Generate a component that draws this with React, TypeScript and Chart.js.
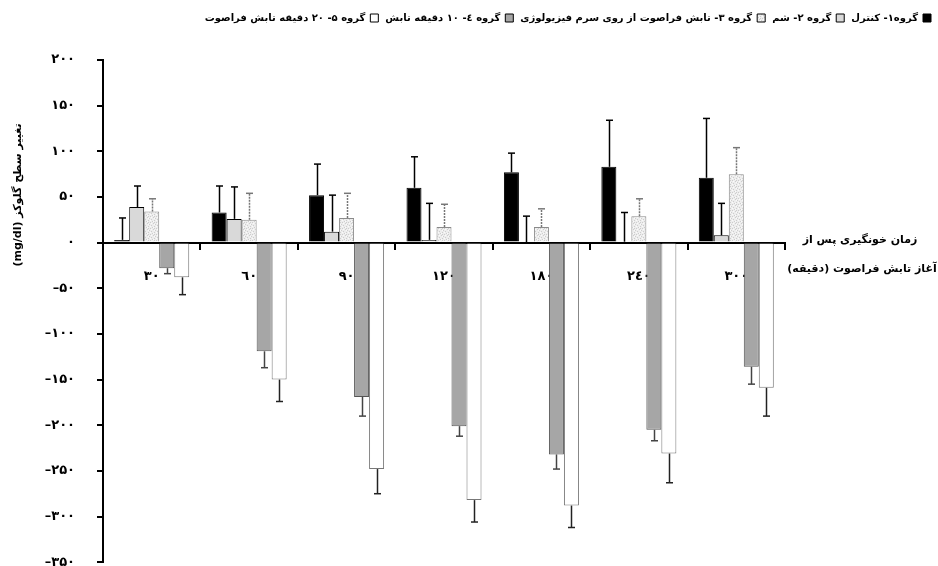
import React, { useEffect, useRef } from "react";
import { Chart, registerables } from "chart.js";

Chart.register(...registerables);

const FONT = "'DejaVu Sans', 'Noto Sans', sans-serif";

// Categories: time after start of ultrasound exposure (minutes)
const categories = ["۳۰", "٦۰", "۹۰", "۱۲۰", "۱۸۰", "۲٤۰", "۳۰۰"];

const seriesNames = [
  "گروه۱- کنترل",
  "گروه ۲- شم",
  "گروه ۳- تابش فراصوت از روی سرم فیزیولوژی",
  "گروه ٤- ۱۰ دقیقه تابش",
  "گروه ۵- ۲۰ دقیقه تابش فراصوت",
];

const control = [3, 33, 52, 60, 77, 83, 71];
const controlErr = [24, 29, 34, 34, 21, 51, 65];
const sham = [39, 26, 12, 3, 0, 1, 8];
const shamErr = [23, 35, 40, 40, 29, 32, 35];
const saline = [34, 25, 27, 17, 17, 29, 75];
const salineErr = [14, 29, 27, 25, 20, 19, 29];
const us10 = [-28, -119, -169, -201, -232, -205, -136];
const us10Err = [6, 18, 21, 11, 16, 12, 19];
const us20 = [-38, -150, -248, -282, -288, -231, -159];
const us20Err = [19, 24, 27, 24, 24, 32, 31];

const yMin = -350;
const yMax = 200;
const yStep = 50;

const yTitle = "تغییر سطح گلوکز (mg/dl)";
const xTitleLines = ["زمان خونگیری پس از", "آغاز تابش فراصوت (دقیقه)"];

const persianDigits = "۰۱۲۳۴۵۶۷۸۹";
// left-to-right isolate so the minus sign stays on the left
const toPersian = (v: number) =>
  "\u2066" + (v < 0 ? "–" : "") + String(Math.abs(v)).replace(/\d/g, (d) => persianDigits[Number(d)]) + "\u2069";

function makeSpeckle(): CanvasPattern | string {
  const c = document.createElement("canvas");
  c.width = 6;
  c.height = 6;
  const g = c.getContext("2d");
  if (!g) return "#ebebeb";
  g.fillStyle = "#ededed";
  g.fillRect(0, 0, 6, 6);
  g.fillStyle = "#cdcdcd";
  [[0, 0], [3, 1], [1, 3], [4, 4], [2, 5], [5, 2], [4, 0]].forEach(([x, y]) => g.fillRect(x, y, 1, 1));
  g.fillStyle = "#fafafa";
  [[1, 1], [4, 2], [0, 4], [3, 5]].forEach(([x, y]) => g.fillRect(x, y, 1, 1));
  return g.createPattern(c, "repeat") || "#ebebeb";
}

const errorSets = [controlErr, shamErr, salineErr, us10Err, us20Err];
const errorStyles = [
  { color: "#000", dash: [] as number[] },
  { color: "#000", dash: [] as number[] },
  { color: "#777", dash: [2, 1] },
  { color: "#444", dash: [] as number[] },
  { color: "#222", dash: [] as number[] },
];

const errorBarPlugin = {
  id: "errorBars",
  afterDatasetsDraw(chart: any) {
    const ctx = chart.ctx;
    const yScale = chart.scales.y;
    ctx.save();
    chart.data.datasets.forEach((ds: any, i: number) => {
      const meta = chart.getDatasetMeta(i);
      const errs = errorSets[i];
      const st = errorStyles[i];
      meta.data.forEach((bar: any, j: number) => {
        const v = ds.data[j] as number;
        const e = errs[j];
        const end = v >= 0 ? v + e : v - e;
        const x = Math.round(bar.x) + 0.5;
        const y0 = yScale.getPixelForValue(v);
        const y1 = yScale.getPixelForValue(end);
        ctx.strokeStyle = st.color;
        ctx.lineWidth = 1.5;
        ctx.setLineDash(st.dash);
        ctx.beginPath();
        ctx.moveTo(x, y0);
        ctx.lineTo(x, y1);
        ctx.stroke();
        ctx.setLineDash([]);
        ctx.beginPath();
        ctx.moveTo(x - 3.5, y1);
        ctx.lineTo(x + 3.5, y1);
        ctx.stroke();
      });
    });
    ctx.restore();
  },
};

const titlesPlugin = {
  id: "titles",
  beforeInit(chart: any) {
    const lg = chart.legend;
    if (lg) {
      const orig = lg.fit.bind(lg);
      lg.fit = function () {
        orig();
        this.height += 27;
      };
    }
  },
  afterDraw(chart: any) {
    const ctx = chart.ctx;
    ctx.save();
    ctx.fillStyle = "#000";
    ctx.direction = "rtl";
    ctx.textAlign = "center";
    ctx.textBaseline = "middle";
    ctx.font = `bold 11px ${FONT}`;
    ctx.fillText(xTitleLines[0], 860, 240);
    ctx.fillText(xTitleLines[1], 862, 269);
    ctx.translate(18, 195);
    ctx.rotate(-Math.PI / 2);
    ctx.font = `bold 11px ${FONT}`;
    ctx.fillText(yTitle, 0, 0);
    ctx.restore();
  },
};

export default function App() {
  const ref = useRef<HTMLCanvasElement | null>(null);

  useEffect(() => {
    if (!ref.current) return;
    const speckle = makeSpeckle();
    const chart = new Chart(ref.current, {
      type: "bar",
      data: {
        labels: categories,
        datasets: [
          { label: seriesNames[0], data: control, backgroundColor: "#000", borderColor: "#000", borderWidth: 1 },
          { label: seriesNames[1], data: sham, backgroundColor: "#d9d9d9", borderColor: "#000", borderWidth: 1 },
          { label: seriesNames[2], data: saline, backgroundColor: speckle as any, borderColor: "#8a8a8a", borderWidth: 1 },
          { label: seriesNames[3], data: us10, backgroundColor: "#a6a6a6", borderColor: "#555", borderWidth: 1 },
          { label: seriesNames[4], data: us20, backgroundColor: "#fff", borderColor: "#777", borderWidth: 1 },
        ],
      },
      options: {
        responsive: false,
        animation: false,
        layout: { padding: { top: 6, right: 0, bottom: 5, left: 0 } },
        datasets: { bar: { categoryPercentage: 0.77, barPercentage: 1 } } as any,
        plugins: {
          legend: {
            position: "top",
            align: "start",
            rtl: true,
            labels: {
              boxWidth: 8,
              boxHeight: 8,
              padding: 7,
              color: "#000",
              font: { size: 10, weight: "bold", family: FONT },
              generateLabels: (c: any) =>
                Chart.defaults.plugins.legend.labels.generateLabels(c).map((it: any) => ({
                  ...it,
                  strokeStyle: "#000",
                  lineWidth: 1,
                })),
            },
          },
          tooltip: { enabled: false },
        },
        scales: {
          x: {
            position: { y: 0 } as any,
            offset: true,
            grid: { offset: true, drawOnChartArea: false, color: "#000", lineWidth: 2, tickLength: 6 },
            border: { color: "#000", width: 2 },
            ticks: {
              color: "#000",
              font: { size: 13, weight: "bold", family: FONT },
              padding: 20,
              maxRotation: 0,
              autoSkip: false,
            },
            afterFit: (s: any) => {
              s.height = 0;
            },
          },
          y: {
            min: yMin,
            max: yMax,
            ticks: {
              stepSize: yStep,
              color: "#000",
              padding: 22,
              font: { size: 13, weight: "bold", family: FONT },
              callback: (v: any) => toPersian(Number(v)),
            },
            grid: { drawOnChartArea: false, color: "#000", lineWidth: 2, tickLength: 6 },
            border: { color: "#000", width: 2 },
            afterFit: (s: any) => {
              s.width = 103;
            },
          },
          spacer: {
            type: "linear",
            position: "right",
            display: true,
            grid: { display: false, drawTicks: false },
            border: { display: false },
            ticks: { display: false },
            afterFit: (s: any) => {
              s.width = 153;
            },
          },
        },
      },
      plugins: [errorBarPlugin, titlesPlugin],
    });
    return () => chart.destroy();
  }, []);

  return (
    <div style={{ position: "absolute", left: 0, top: 0, width: 938, height: 566, overflow: "hidden", background: "#fff" }}>
      <canvas ref={ref} width={938} height={592} />
    </div>
  );
}
